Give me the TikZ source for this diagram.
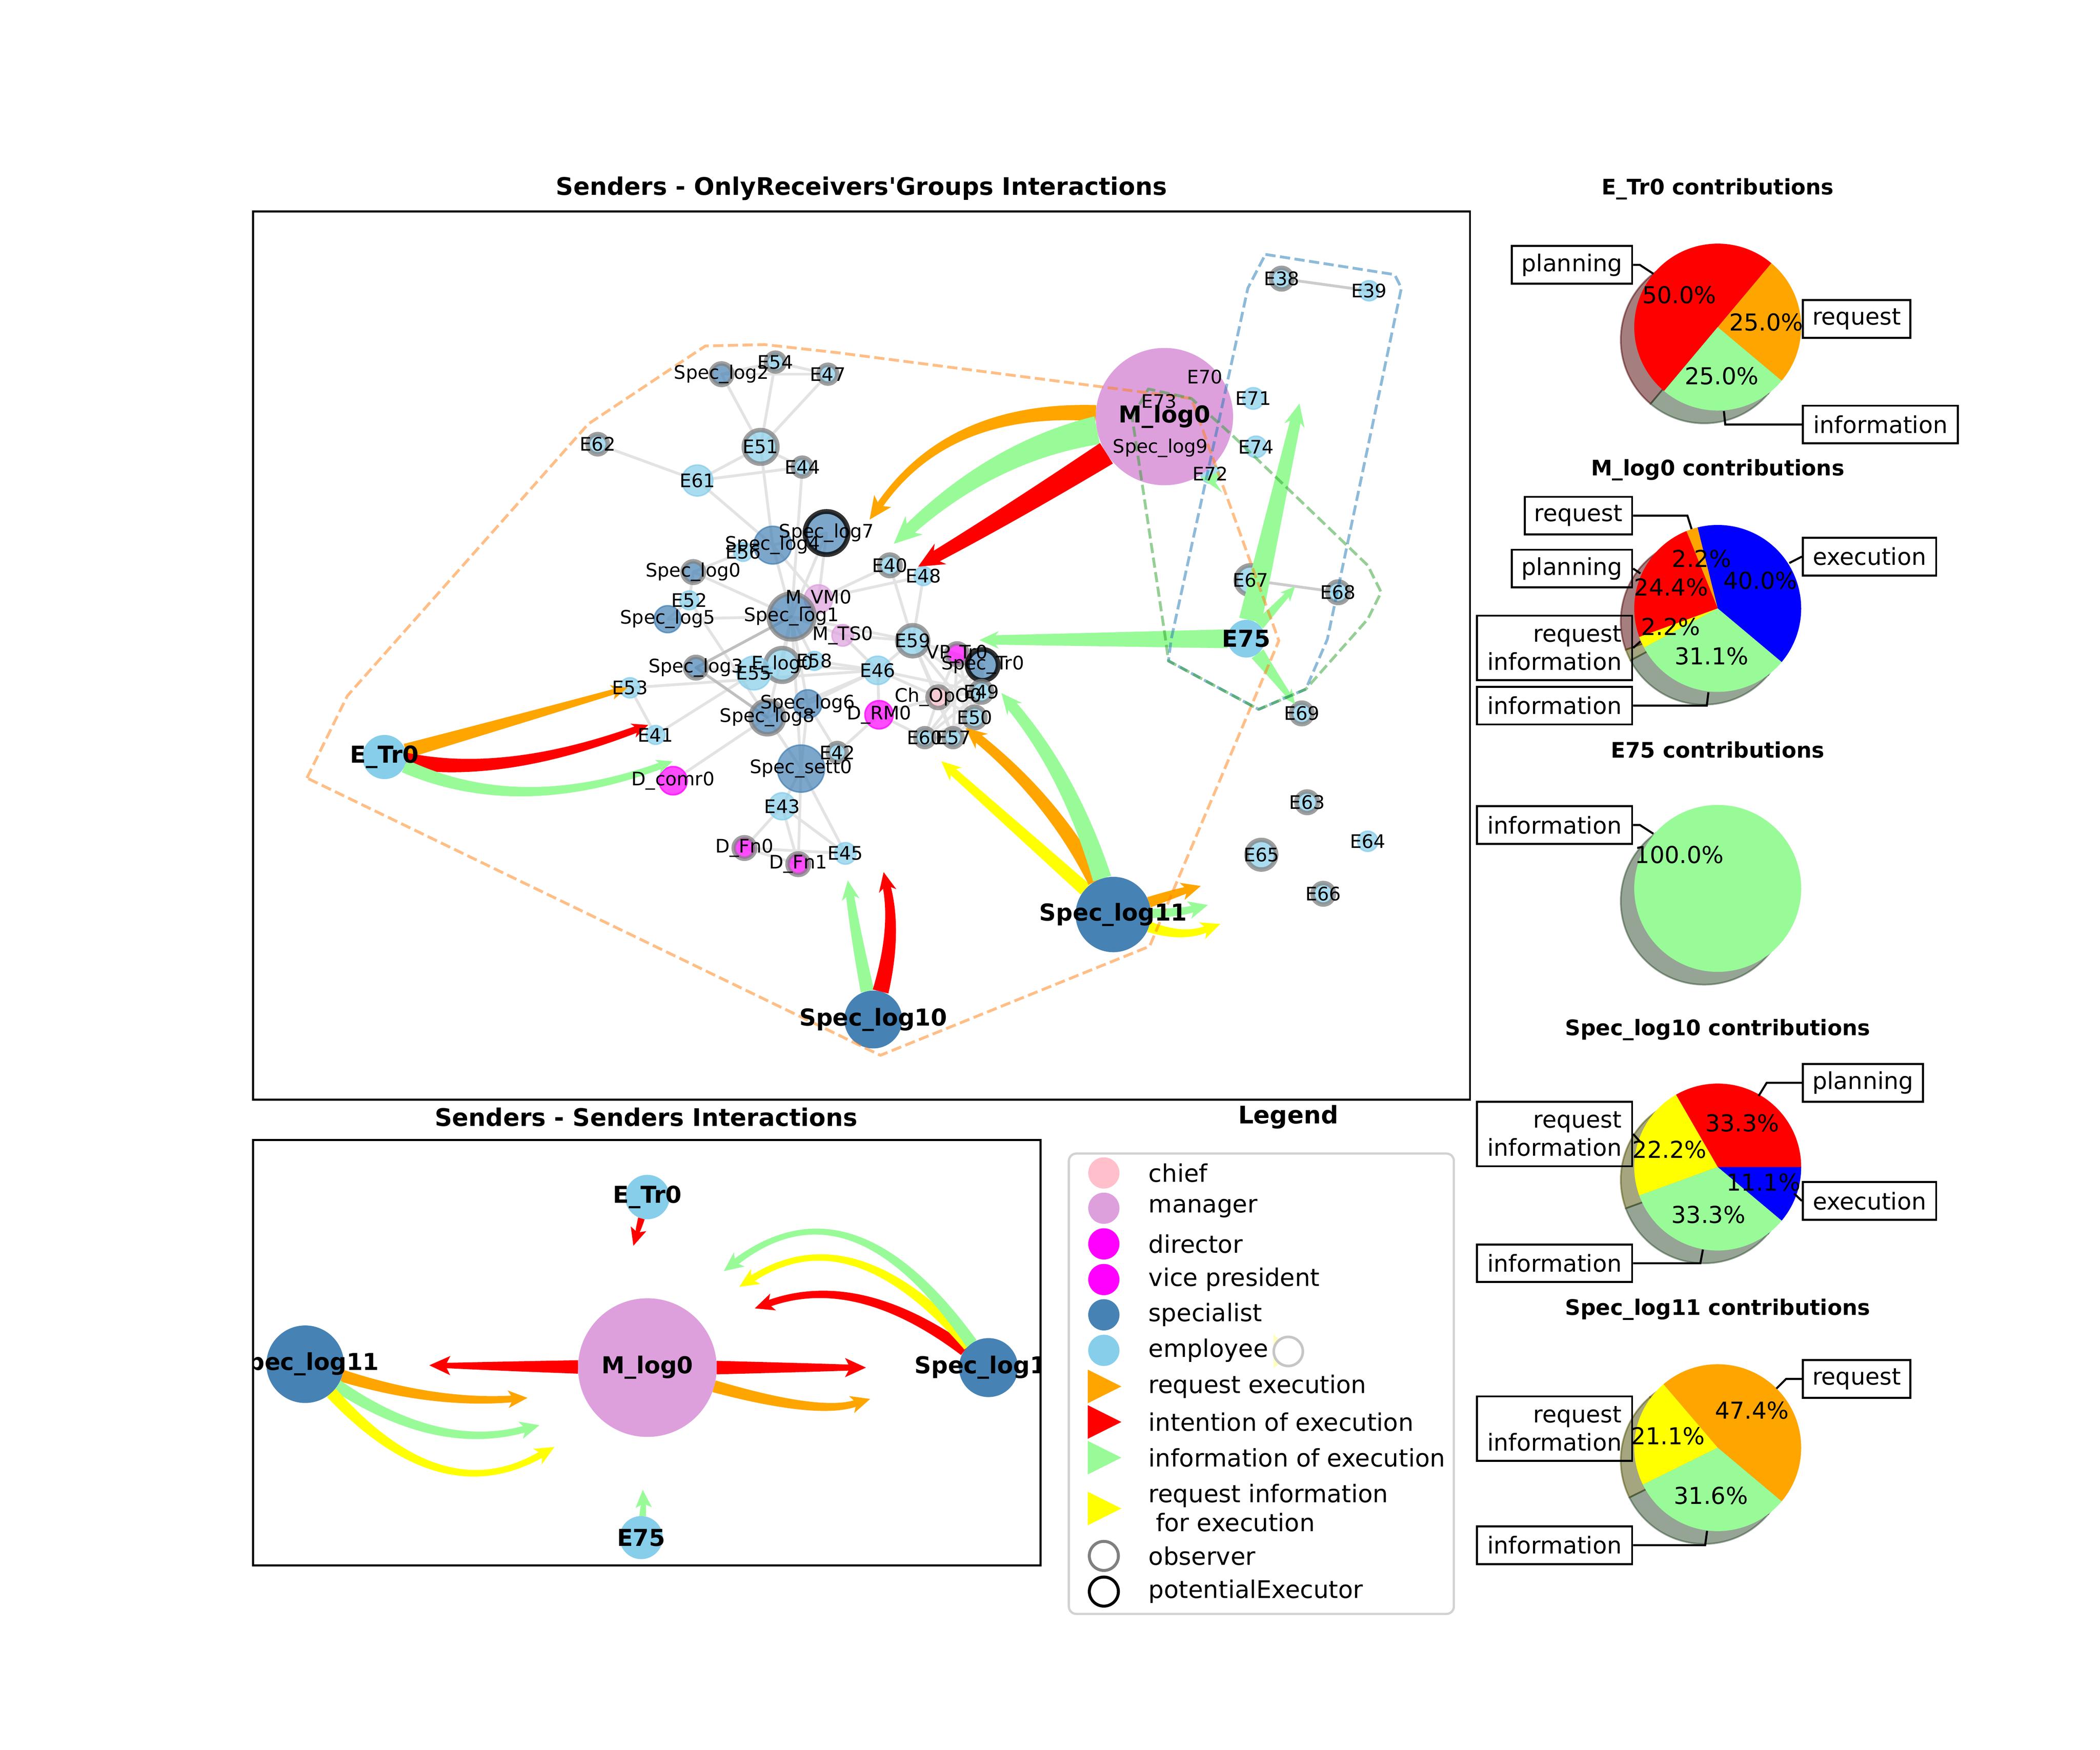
\documentclass[tikz,border=0pt]{standalone}
\usepackage{fontspec}
\setmainfont{DejaVu Sans}[Ligatures=TeXOff]
\usetikzlibrary{calc}
\pgfdeclarelayer{bg}
\pgfsetlayers{bg,main}
\definecolor{cplum}{RGB}{221,160,221}
\definecolor{csteel}{RGB}{70,130,180}
\definecolor{csky}{RGB}{135,206,235}
\definecolor{cmag}{RGB}{255,0,255}
\definecolor{cpink}{RGB}{255,192,203}
\definecolor{corange}{RGB}{255,165,0}
\definecolor{cred}{RGB}{255,0,0}
\definecolor{cgreen}{RGB}{152,251,152}
\definecolor{cyellow}{RGB}{255,255,0}
\definecolor{cblue}{RGB}{0,0,255}
\definecolor{tabor}{RGB}{255,127,14}
\definecolor{tabbl}{RGB}{31,119,180}
\definecolor{tabgr}{RGB}{44,160,44}
\definecolor{sred}{RGB}{77,0,0}
\definecolor{sor}{RGB}{77,50,0}
\definecolor{sgr}{RGB}{46,75,46}
\definecolor{sye}{RGB}{77,77,0}
\definecolor{sbl}{RGB}{0,0,77}
\tikzset{
  lbl/.style={font=\fontsize{10}{12}\selectfont, inner sep=0pt},
  blbl/.style={font=\bfseries\fontsize{12.5}{15}\selectfont, inner sep=0pt},
  ttl/.style={font=\bfseries\fontsize{13}{15}\selectfont, inner sep=0pt},
  pttl/.style={font=\bfseries\fontsize{11.5}{14}\selectfont, inner sep=0pt},
  pct/.style={font=\fontsize{12.5}{15}\selectfont, inner sep=0pt},
  pbox/.style={draw=black, line width=1.1pt, inner sep=0pt, font=\fontsize{12.5}{15}\selectfont, align=right, minimum height=28*0.254mm},
  lead/.style={draw=black, line width=1.1pt},
  ltxt/.style={font=\fontsize{13}{15.5}\selectfont, anchor=west, inner sep=0pt},
  gedge/.style={draw=gray!22, line width=1.5pt, line cap=round},
  dedge/.style={draw=gray!50, line width=1.5pt, line cap=round},
  hull/.style={line width=1.5pt, dash pattern=on 5.5pt off 2.4pt, draw opacity=0.5, line join=round},
  obs/.style={draw=gray, draw opacity=0.75, line width=2.4pt},
  pex/.style={draw=black, draw opacity=0.8, line width=2.6pt},
}
\newcommand\gnode[6]{\node[circle,inner sep=0pt,minimum size=#4*0.508mm,fill=#5,fill opacity=0.7,draw=#5,draw opacity=0.75,line width=0.8pt,#6] (#1) at (#2,#3) {};}
\newcommand\snode[5]{\node[circle,inner sep=0pt,minimum size=#4*0.508mm,fill=#5] (#1) at (#2,#3) {};}
% color, source node, control, tip, start width, end width, head length, source radius
\newcommand\fanarrow[8]{%
  \coordinate (fS) at ($(#2)!#8*0.254mm!(#3)$);
  \coordinate (fT) at ($(#4)!#7*0.254mm!(#3)$);
  \coordinate (fTb) at ($(#4)!#7*0.3048mm!(#3)$);
  \coordinate (fSl) at ($(fS)!#5*0.127mm!90:(#3)$);
  \coordinate (fSr) at ($(fS)!#5*0.127mm!-90:(#3)$);
  \coordinate (fTl) at ($(fT)!#6*0.127mm!90:(#4)$);
  \coordinate (fTr) at ($(fT)!#6*0.127mm!-90:(#4)$);
  \coordinate (fBl) at ($(fTb)!#7*0.1397mm!90:(#4)$);
  \coordinate (fBr) at ($(fTb)!#7*0.1397mm!-90:(#4)$);
  \coordinate (fCl) at ($(#3)+0.5*(fSl)-0.5*(fS)+0.5*(fTl)-0.5*(fT)$);
  \coordinate (fCr) at ($(#3)+0.5*(fSr)-0.5*(fS)+0.5*(fTr)-0.5*(fT)$);
  \fill[#1] (fSl) .. controls ($(fSl)!0.6667!(fCl)$) and ($(fTl)!0.6667!(fCl)$) .. (fTl) -- (fBl) -- (#4) -- (fBr) -- (fTr) .. controls ($(fTr)!0.6667!(fCr)$) and ($(fSr)!0.6667!(fCr)$) .. (fSr) -- cycle;
}
\newcommand\piew[3]{\fill[#1] (0,0) -- (#2:62) arc[start angle=#2,end angle=#3,radius=62] -- cycle;}
\newcommand\pieshadow[3]{\filldraw[fill=#1,draw=#1,fill opacity=0.5,draw opacity=0.5,line width=0.9pt] (-10,-9.5) -- ++(#2:62) arc[start angle=#2,end angle=#3,radius=62] -- cycle;}
\begin{document}
\begin{tikzpicture}[x=0.254mm,y=-0.254mm]
\useasboundingbox (0,0) rectangle (1560,1300);
\begin{pgfonlayer}{bg}
\fill[white] (0,0) rectangle (1560,1300);
\end{pgfonlayer}

% ---------------- top panel: receiver nodes
\gnode{E54}{576}{269}{7}{csky}{obs}
\gnode{SL2}{536}{278}{8}{csteel}{obs}
\gnode{E47}{615}{278}{7}{csky}{obs}
\gnode{E62}{444}{330}{7.5}{csky}{obs}
\gnode{E51}{565}{332}{12.5}{csky}{obs}
\gnode{E44}{596}{347}{7}{csky}{obs}
\gnode{E61}{518}{357}{11.5}{csky}{}
\gnode{SL7}{614}{396}{16}{csteel}{pex}
\gnode{SL4}{574}{405}{14}{csteel}{}
\gnode{E56}{552}{410}{7}{csky}{}
\gnode{SL0}{515}{425}{8}{csteel}{obs}
\gnode{E52}{512}{446}{7}{csky}{}
\gnode{SL5}{496}{460}{10}{csteel}{}
\gnode{MVM0}{608}{445}{10.5}{cplum}{}
\gnode{SL1}{588}{458}{17}{csteel}{obs}
\gnode{MTS0}{626}{472}{8}{cplum}{}
\gnode{E40}{661}{420}{8}{csky}{obs}
\gnode{E48}{686}{428}{7}{csky}{}
\gnode{E59}{678}{476}{11.5}{csky}{obs}
\gnode{VPTr0}{711}{486}{8}{cmag}{obs}
\gnode{STr0}{730}{494}{11.5}{csteel}{pex}
\gnode{SL3}{517}{496}{8}{csteel}{obs}
\gnode{Elog0}{581}{494}{12.5}{csky}{obs}
\gnode{E55}{560}{500}{12.5}{csky}{}
\gnode{E58}{605}{491}{7}{csky}{}
\gnode{E46}{652}{498}{10.5}{csky}{}
\gnode{E53}{468}{511}{7.5}{csky}{}
\gnode{ChOp}{697}{518}{8}{cpink}{obs}
\gnode{E49}{729}{514}{8}{csky}{obs}
\gnode{SL6}{600}{523}{10.5}{csteel}{}
\gnode{SL8}{570}{533}{12.5}{csteel}{obs}
\gnode{DRM0}{653}{531}{10.5}{cmag}{}
\gnode{E50}{724}{533}{8}{csky}{obs}
\gnode{E41}{487}{546}{7}{csky}{}
\gnode{E60}{687}{548}{7}{csky}{obs}
\gnode{E57}{708}{548}{7}{csky}{obs}
\gnode{E42}{622}{559}{7}{csky}{obs}
\gnode{Sset}{595}{571}{17.5}{csteel}{}
\gnode{Dcomr}{500}{580}{10.5}{cmag}{}
\gnode{E43}{581}{599}{10}{csky}{}
\gnode{DFn0}{553}{630}{8}{cmag}{obs}
\gnode{DFn1}{593}{642}{8}{cmag}{obs}
\gnode{E45}{628}{634}{8}{csky}{}
\gnode{E71}{931}{296}{8}{csky}{}
\gnode{E74}{933}{332}{8}{csky}{}
\gnode{E72}{899}{352}{7}{csky}{}
\gnode{E70}{895}{280}{7}{csky}{}
\gnode{E73}{861}{298}{7}{csky}{}
\gnode{SL9}{862}{333}{8}{csteel}{}
\gnode{E67}{929}{431}{11}{csky}{obs}
\gnode{E68}{994}{440}{8}{csky}{obs}
\gnode{E69}{967}{530}{8}{csky}{obs}
\gnode{E38}{952}{207}{8}{csky}{obs}
\gnode{E39}{1017}{216}{7.5}{csky}{}
\gnode{E63}{971}{596}{8}{csky}{obs}
\gnode{E64}{1016}{625}{7.5}{csky}{}
\gnode{E65}{937}{635}{11}{csky}{obs}
\gnode{E66}{983}{664}{8}{csky}{obs}

% sender nodes
\snode{Mlog0}{865}{309.5}{51}{cplum}
\snode{ETr0}{285.6}{562.4}{16.4}{csky}
\snode{E75}{925.8}{474.5}{14}{csky}
\snode{SL11}{827}{679.4}{28}{csteel}
\snode{SL10}{648.7}{757.4}{21.5}{csteel}

% gray edges
\begin{pgfonlayer}{bg}
\foreach \a/\b in {SL2/E54,SL2/E47,E54/E47,SL2/E51,E54/E51,E47/E51,E62/E61,E61/E51,E61/E44,E51/E44,E61/SL4,E51/SL4,E44/SL1,SL4/SL1,SL4/MVM0,SL7/MVM0,SL7/SL1,SL7/SL4,SL0/SL1,SL0/E52,E56/SL0,SL5/SL1,SL5/E52,E52/SL8,MVM0/E40,MVM0/E48,SL1/E59,E40/E59,E48/E59,E53/E46,E41/E53,E41/E55,Dcomr/SL8,SL6/E46,E46/DRM0,DRM0/E42,E42/SL6,Sset/SL8,Sset/E43,Sset/E45,Sset/DFn1,E43/DFn0,E43/DFn1,DFn0/DFn1,DFn0/E45,E43/E45,SL1/SL8,Elog0/SL1,Elog0/E46,SL1/MTS0,MTS0/E46,SL6/SL1,Sset/SL6,Sset/SL1,DRM0/E60,E46/E59,E59/VPTr0,E59/STr0,E59/ChOp,E59/E49,E59/E50,E59/E57,VPTr0/STr0,VPTr0/ChOp,VPTr0/E49,VPTr0/E50,VPTr0/E57,STr0/ChOp,STr0/E49,STr0/E50,STr0/E60,STr0/E57,ChOp/E49,ChOp/E50,ChOp/E57,ChOp/E60,E49/E50,E49/E57,E49/E60,E50/E57,E50/E60,E57/E60,E46/ChOp,E46/E49,DRM0/ChOp,MTS0/E59,SL3/E55,E55/Elog0,E58/E46,E58/SL1,SL8/E46}
  \draw[gedge] (\a.center) -- (\b.center);
\draw[dedge] (SL3.center) -- (SL1.center);
\draw[dedge] (SL3.center) -- (SL8.center);
\draw[draw=gray!40, line width=1.5pt] (E38.center) -- (E39.center);
\draw[draw=gray!40, line width=1.5pt] (E67.center) -- (E68.center);
\end{pgfonlayer}

% arrows: M_log0
\coordinate (tMo) at (646,386);
\coordinate (tMg) at (664,404);
\coordinate (tMr) at (682,421);
\fanarrow{corange}{Mlog0}{705.5,301.5}{tMo}{12}{5}{14}{51}
\fanarrow{cgreen}{Mlog0}{739,335}{tMg}{21}{9}{17}{51}
\fanarrow{cred}{Mlog0}{752,381}{tMr}{18}{9}{16}{51}
% E_Tr0
\coordinate (tEo) at (466,511);
\coordinate (tEr) at (481.5,538.6);
\coordinate (tEg) at (499.6,565.6);
\fanarrow{corange}{ETr0}{376,537}{tEo}{11}{4}{10}{16.4}
\fanarrow{cred}{ETr0}{374.75,578.2}{tEr}{12}{5}{10}{16.4}
\fanarrow{cgreen}{ETr0}{385.2,607.2}{tEg}{10}{5}{10}{16.4}
% E75
\coordinate (tXs) at (727.6,475.5);
\coordinate (tXu) at (965.3,299.8);
\coordinate (tXe) at (962,435.7);
\coordinate (tXd) at (962,523);
\fanarrow{cgreen}{E75}{826.7,475}{tXs}{14}{7}{12}{14}
\fanarrow{cgreen}{E75}{945.5,387}{tXu}{17}{8}{14}{14}
\fanarrow{cgreen}{E75}{944,455}{tXe}{8}{4}{9}{14}
\fanarrow{cgreen}{E75}{944,499}{tXd}{11}{4}{9}{14}
\coordinate (hE72) at (892,355);
\fill[cgreen] (hE72) -- (908,366) -- (903,358.5) -- (906,351) -- cycle;
% Spec_log11
\coordinate (tLy) at (699.3,565.6);
\coordinate (tLo) at (717.2,540.8);
\coordinate (tLg) at (743.9,514.9);
\fanarrow{cyellow}{SL11}{752.5,613}{tLy}{10}{6}{12}{28}
\fanarrow{corange}{SL11}{782.5,594.5}{tLo}{12}{7}{13}{28}
\fanarrow{cgreen}{SL11}{795,576.5}{tLg}{14}{8}{13}{28}
\coordinate (tRo) at (892,658.2);
\coordinate (tRg) at (897.3,672.3);
\coordinate (tRy) at (906.5,686.4);
\fanarrow{corange}{SL11}{872,664}{tRo}{8}{5}{12}{28}
\fanarrow{cgreen}{SL11}{876,678}{tRg}{7}{5}{12}{28}
\fanarrow{cyellow}{SL11}{878,697}{tRy}{8}{5}{12}{28}
% Spec_log10
\coordinate (tTg) at (629.8,654.1);
\coordinate (tTr) at (656.4,647.9);
\fanarrow{cgreen}{SL10}{636,696}{tTg}{10}{6}{12}{21.5}
\fanarrow{cred}{SL10}{665.8,692}{tTr}{12}{6}{12}{21.5}

% hulls
\draw[hull, tabor] (228,578) -- (258,517) -- (437,315) -- (524,257) -- (568,256) -- (622,262) -- (885,296) -- (950,476) -- (854,703) -- (654,784) -- cycle;
\draw[hull, tabbl] (940,189) -- (1036,204) -- (1041,214) -- (986,475) -- (970,512) -- (935,527) -- (868,491) -- (870,475) -- (927,214) -- cycle;
\draw[hull, tabgr] (841,310) -- (853,289) -- (885,296) -- (915,323) -- (1016,420) -- (1026,440) -- (1016,460) -- (970,512) -- (935,527) -- (868,491) -- (866,476) -- cycle;

% labels
\foreach \n/\t in {E54/E54,SL2/Spec\_log2,E47/E47,E62/E62,E51/E51,E44/E44,E61/E61,SL7/Spec\_log7,SL4/Spec\_log4,E56/E56,SL0/Spec\_log0,E52/E52,SL5/Spec\_log5,MVM0/M\_VM0,SL1/Spec\_log1,MTS0/M\_TS0,E40/E40,E48/E48,E59/E59,VPTr0/VP\_Tr0,STr0/Spec\_Tr0,SL3/Spec\_log3,Elog0/E\_log0,E55/E55,E58/E58,E46/E46,E53/E53,ChOp/Ch\_OpO0,E49/E49,SL6/Spec\_log6,SL8/Spec\_log8,DRM0/D\_RM0,E50/E50,E41/E41,E60/E60,E57/E57,E42/E42,Sset/Spec\_sett0,Dcomr/D\_comr0,E43/E43,DFn0/D\_Fn0,DFn1/D\_Fn1,E45/E45,E71/E71,E74/E74,E72/E72,E70/E70,E73/E73,SL9/Spec\_log9,E67/E67,E68/E68,E69/E69,E38/E38,E39/E39,E63/E63,E64/E64,E65/E65,E66/E66}
  \node[lbl] at (\n) {\t};
\node[blbl] at (Mlog0) {M\_log0};
\node[blbl] at (ETr0) {E\_Tr0};
\node[blbl] at (E75) {E75};
\node[blbl] at (SL11) {Spec\_log11};
\node[blbl] at (SL10) {Spec\_log10};

% frames and titles
\draw[line width=1.1pt] (188,157) rectangle (1092,817);
\node[ttl] (t1) at (640,140) {Senders - OnlyReceivers'Groups Interactions};
\draw[line width=1.1pt] (188,847) rectangle (773,1163);
\node[ttl] (t2) at (480,830) {Senders - Senders Interactions};

% ---------------- bottom panel
\snode{bMlog0}{480.9}{1016}{51.5}{cplum}
\snode{bETr0}{480.9}{889.3}{16.5}{csky}
\snode{bSL11}{226.7}{1013.5}{28.8}{csteel}
\snode{bSL10}{734.3}{1016}{21.9}{csteel}
\snode{bE75}{476.3}{1142.3}{16}{csky}
\coordinate (bTr) at (470.5,925.5);
\fanarrow{cred}{bETr0}{474,914}{bTr}{5}{3}{11}{16.5}
\coordinate (bXg) at (477.5,1106.8);
\fanarrow{cgreen}{bE75}{478,1117}{bXg}{5}{3}{11}{16}
\coordinate (bMl) at (318.9,1014.3);
\fanarrow{cred}{bMlog0}{374,1015}{bMl}{10}{4}{13}{51.5}
\coordinate (bMr) at (643.3,1016);
\fanarrow{cred}{bMlog0}{588,1016}{bMr}{10}{4.5}{13}{51.5}
\coordinate (bMo) at (646.4,1039.3);
\fanarrow{corange}{bMlog0}{606.8,1051.3}{bMo}{9}{5}{12}{51.5}
\coordinate (bLo) at (391.8,1038.5);
\fanarrow{corange}{bSL11}{322.1,1043.25}{bLo}{9}{5}{12}{28.8}
\coordinate (bLg) at (400.7,1058.8);
\fanarrow{cgreen}{bSL11}{324.65,1079.1}{bLg}{9}{5}{12}{28.8}
\coordinate (bLy) at (411.8,1075);
\fanarrow{cyellow}{bSL11}{327.1,1123}{bLy}{9}{5}{12}{28.8}
\coordinate (bTrr) at (560.7,972);
\fanarrow{cred}{bSL10}{637.5,945.25}{bTrr}{9}{5}{12}{21.9}
\coordinate (bTy) at (549.2,956);
\fanarrow{cyellow}{bSL10}{633.5,902.5}{bTy}{9}{5}{12}{21.9}
\coordinate (bTg) at (537.7,944.3);
\fanarrow{cgreen}{bSL10}{633.15,872.1}{bTg}{9}{5}{12}{21.9}
\begin{scope}
\clip (188,847) rectangle (773,1163);
\node[blbl] at (bMlog0) {M\_log0};
\node[blbl] at (bETr0) {E\_Tr0};
\node[blbl] at (bSL11) {Spec\_log11};
\node[blbl] at (bSL10) {Spec\_log10};
\node[blbl] at (bE75) {E75};
\end{scope}

% ---------------- legend
\node[ttl] (lt) at (957,830) {Legend};
\draw[draw=gray!35, line width=1.2pt, rounded corners=4pt, fill=white] (794,857) rectangle (1080,1199);
\fill[cpink] (820,871.4) circle[radius=11.6];
\fill[cplum] (820,897.6) circle[radius=11.6];
\fill[cmag] (820,924.1) circle[radius=11.6];
\fill[cmag] (820,950.6) circle[radius=11.6];
\fill[csteel] (820,976.8) circle[radius=11.6];
\fill[csky] (820,1003.2) circle[radius=11.6];
\fill[corange] (808,1017.5) -- (808,1042.5) -- (833,1030) -- cycle;
\fill[cred] (808,1043.9) -- (808,1068.9) -- (833,1056.4) -- cycle;
\fill[cgreen] (808,1070.4) -- (808,1095.4) -- (833,1082.9) -- cycle;
\fill[cyellow] (808,1108.2) -- (808,1133.2) -- (833,1120.7) -- cycle;
\draw[gray, line width=1.6pt] (820,1155.9) circle[radius=10.8];
\draw[black, line width=1.6pt] (820,1182.4) circle[radius=10.8];
\fill[cyellow!25] (946,991.5) -- (946,1016.5) -- (962,1004) -- cycle;
\filldraw[fill=white, draw=gray!45, line width=1.4pt] (957,1004) circle[radius=10.8];
\node[ltxt] at (853,871.4) {chief};
\node[ltxt] at (853,897.6) {manager};
\node[ltxt] at (853,924.1) {director};
\node[ltxt] at (853,950.6) {vice president};
\node[ltxt] at (853,976.8) {specialist};
\node[ltxt] at (853,1003.2) {employee};
\node[ltxt] at (853,1030) {request execution};
\node[ltxt] at (853,1056.4) {intention of execution};
\node[ltxt] at (853,1082.9) {information of execution};
\node[ltxt, align=left] at (853,1120.2) {request information\\\hspace*{0.3em}for execution};
\node[ltxt] at (853,1155.9) {observer};
\node[ltxt] at (853,1182.4) {potentialExecutor};

% ---------------- pies
\begin{scope}[xshift=1.016mm]
% pie 1
\node[pttl] at (1272,140.4) {E\_Tr0 contributions};
\begin{scope}[shift={(1272,243)},yscale=-1]
\pieshadow{sor}{-40}{50}\pieshadow{sred}{50}{230}\pieshadow{sgr}{230}{320}
\piew{corange}{-40}{50}\piew{cred}{50}{230}\piew{cgreen}{230}{320}
\end{scope}
\node[pct] at (1243.5,219) {50.0\%};
\node[pct] at (1308,239.5) {25.0\%};
\node[pct] at (1275,279.4) {25.0\%};
\node[pbox, minimum width=89.4*0.254mm] (p1a) at (1163.7,196.8) {planning};
\node[pbox, minimum width=79.8*0.254mm] (p1b) at (1375.2,237) {request};
\node[pbox, minimum width=115.2*0.254mm] (p1c) at (1392.9,315.4) {information};
\coordinate (w1a) at (1224.2,203.4);
\coordinate (w1c) at (1276.6,305.4);
\draw[lead] (p1a.east) -- ++(5,0) -- (w1a);
\draw[lead] (p1c.west) -- (1277.6,315.4) -- (w1c);
% pie 2
\node[pttl] at (1272,349.3) {M\_log0 contributions};
\begin{scope}[shift={(1272,452)},yscale=-1]
\pieshadow{sbl}{-40}{104}\pieshadow{sor}{104}{112}\pieshadow{sred}{112}{200}\pieshadow{sye}{200}{208}\pieshadow{sgr}{208}{320}
\piew{cblue}{-40}{104}\piew{corange}{104}{112}\piew{cred}{112}{200}\piew{cyellow}{200}{208}\piew{cgreen}{208}{320}
\end{scope}
\node[pct] at (1260,415) {2.2\%};
\node[pct] at (1303.6,431.4) {40.0\%};
\node[pct] at (1237.4,436.3) {24.4\%};
\node[pct] at (1237,465.6) {2.2\%};
\node[pct] at (1267.5,487.5) {31.1\%};
\node[pbox, minimum width=79.8*0.254mm] (p2a) at (1168.5,383.1) {request};
\node[pbox, minimum width=89.4*0.254mm] (p2b) at (1163.7,422.4) {planning};
\node[pbox, minimum width=115.2*0.254mm, minimum height=48*0.254mm] (p2c) at (1150.8,481.4) {request\\information};
\node[pbox, minimum width=115.2*0.254mm] (p2d) at (1150.8,524.2) {information};
\node[pbox, minimum width=99*0.254mm] (p2e) at (1384.8,413.5) {execution};
\coordinate (w2a) at (1252.6,393.1);
\coordinate (w2b) at (1214.6,426);
\coordinate (w2c) at (1214.6,476.5);
\coordinate (w2d) at (1265.1,514.3);
\coordinate (w2e) at (1325.2,418.3);
\draw[lead] (p2a.east) -- (1249.5,383.1) -- (w2a);
\draw[lead] (p2b.east) -- (w2b);
\draw[lead] (p2c.east) -- (w2c);
\draw[lead] (p2d.east) -- (1263.9,524.2) -- (w2d);
\draw[lead] (p2e.west) -- (w2e);
% pie 3
\node[pttl] at (1272,557) {E75 contributions};
\begin{scope}[shift={(1272,660)},yscale=-1]
\pieshadow{sgr}{-40}{320}
\piew{cgreen}{-40}{320}
\end{scope}
\node[pct] at (1243.5,635) {100.0\%};
\node[pbox, minimum width=115.2*0.254mm] (p3a) at (1150.8,612.9) {information};
\coordinate (w3a) at (1224.2,619.4);
\draw[lead] (p3a.east) -- ++(5,0) -- (w3a);
% pie 4
\node[pttl] at (1272,765) {Spec\_log10 contributions};
\begin{scope}[shift={(1272,867)},yscale=-1]
\pieshadow{sbl}{-40}{0}\pieshadow{sred}{0}{120}\pieshadow{sye}{120}{200}\pieshadow{sgr}{200}{320}
\piew{cblue}{-40}{0}\piew{cred}{0}{120}\piew{cyellow}{120}{200}\piew{cgreen}{200}{320}
\end{scope}
\node[pct] at (1290.3,834.4) {33.3\%};
\node[pct] at (1236.2,854.1) {22.2\%};
\node[pct] at (1306,878.5) {11.1\%};
\node[pct] at (1265.1,902.3) {33.3\%};
\node[pbox, minimum width=89.4*0.254mm] (p4a) at (1379.9,804.4) {planning};
\node[pbox, minimum width=115.2*0.254mm, minimum height=48*0.254mm] (p4b) at (1150.8,842.4) {request\\information};
\node[pbox, minimum width=99*0.254mm] (p4c) at (1384.8,892.2) {execution};
\node[pbox, minimum width=115.2*0.254mm] (p4d) at (1150.8,938.5) {information};
\coordinate (w4a) at (1302.4,814.2);
\coordinate (w4b) at (1214.6,848.5);
\coordinate (w4c) at (1328.8,886.7);
\coordinate (w4d) at (1261,928.3);
\draw[lead] (p4a.west) -- (1308.4,804.4) -- (w4a);
\draw[lead] (p4b.east) -- (w4b);
\draw[lead] (p4c.west) -- (w4c);
\draw[lead] (p4d.east) -- (1259.1,938.5) -- (w4d);
% pie 5
\node[pttl] at (1272,973) {Spec\_log11 contributions};
\begin{scope}[shift={(1272,1075.5)},yscale=-1]
\pieshadow{sor}{-40}{130.53}\pieshadow{sye}{130.53}{206.32}\pieshadow{sgr}{206.32}{320}
\piew{corange}{-40}{130.53}\piew{cyellow}{130.53}{206.32}\piew{cgreen}{206.32}{320}
\end{scope}
\node[pct] at (1297.5,1047.8) {47.4\%};
\node[pct] at (1235,1066.8) {21.1\%};
\node[pct] at (1267,1111.2) {31.6\%};
\node[pbox, minimum width=79.8*0.254mm] (p5a) at (1375.2,1024.4) {request};
\node[pbox, minimum width=115.2*0.254mm, minimum height=48*0.254mm] (p5b) at (1150.8,1061.4) {request\\information};
\node[pbox, minimum width=115.2*0.254mm] (p5c) at (1150.8,1147.9) {information};
\coordinate (w5a) at (1315.6,1031.6);
\coordinate (w5c) at (1264.1,1137.3);
\draw[lead] (p5a.west) -- (1322.8,1024.4) -- (w5a);
\draw[lead] (p5c.east) -- (1262.7,1147.9) -- (w5c);
\end{scope}
\end{tikzpicture}
\end{document}
